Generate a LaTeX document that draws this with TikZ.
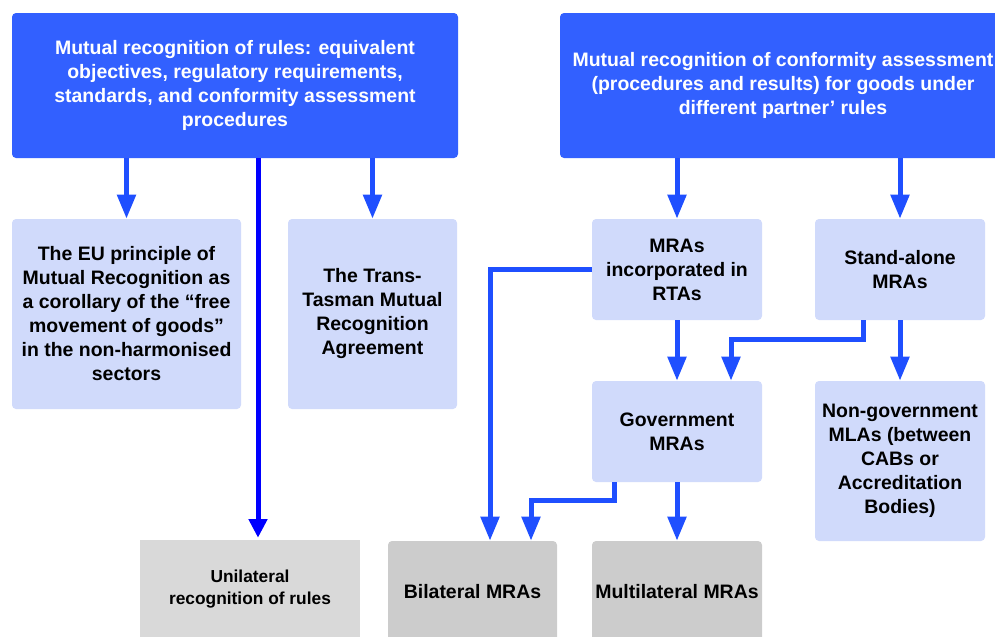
\documentclass[tikz,border=0pt]{standalone}
\usepackage{fontspec}
\setmainfont{Liberation Sans}
\usetikzlibrary{arrows.meta, calc, positioning}
\definecolor{db}{RGB}{50, 96, 255}
\definecolor{lb}{RGB}{208, 218, 251}
\definecolor{ab}{RGB}{31, 79, 255}
\definecolor{pb}{RGB}{0, 0, 255}
\definecolor{g1}{HTML}{D9D9D9}
\definecolor{g2}{HTML}{CCCCCC}

\begin{document}
\begin{tikzpicture}[x=0.75pt, y=-0.75pt,
	head/.style={font=\fontsize{14.6}{18}\selectfont\bfseries, text=white, fill=db, rounded corners=3pt, align=center, inner sep=0pt, minimum width=334.5pt, minimum height=108.75pt},
	sub/.style={font=\fontsize{14.6}{18}\selectfont\bfseries, fill=lb, rounded corners=3pt, align=center, inner sep=0pt, minimum width=127.5pt, minimum height=75.75pt},
	leaf/.style={font=\fontsize{14.6}{18}\selectfont\bfseries, fill=g2, rounded corners=3pt, align=center, inner sep=0pt, minimum width=126.75pt, minimum height=76.5pt},
	arr/.style={draw=ab, line width=3.75pt, -{Triangle[length=18pt, width=13.5pt]}},
	arrp/.style={draw=pb, line width=3.75pt, -{Triangle[length=14pt, width=13.5pt]}}
]
	\useasboundingbox (0,0) rectangle (995,636);
	
	% top row
	\node[head] (rules) at (235, 85.5) {Mutual recognition of rules: equivalent\\objectives, regulatory requirements,\\standards, and conformity assessment\\procedures};
	\node[head] (conf) at (783, 85.5) {Mutual recognition of conformity assessment\\(procedures and results) for goods under\\different partner’ rules};
	
	% second row
	\node[sub, minimum width=171.75pt, minimum height=142.5pt] (eu) at (126.5, 314) {The EU principle of\\Mutual Recognition as\\a corollary of the “free\\movement of goods”\\in the non-harmonised\\sectors};
	\node[sub, minimum width=126.75pt, minimum height=142.5pt] (trans) at (372.5, 314) {The Trans-\\Tasman Mutual\\Recognition\\Agreement};
	\node[sub] (rta) at (677, 269.5) {MRAs\\incorporated in\\RTAs};
	\node[sub] (stand) at (900, 269.5) {Stand-alone\\MRAs};
	
	% third row
	\node[sub] (gov) at (677, 431.5) {Government\\MRAs};
	\node[sub, minimum height=120pt] (nongov) at (900, 461) {Non-government\\MLAs (between\\CABs or\\Accreditation\\Bodies)};
	
	% bottom row
	\node[leaf, fill=g1, rounded corners=0pt, minimum width=165pt, minimum height=73.5pt, font=\fontsize{13}{17}\selectfont\bfseries] (uni) at (250, 589) {Unilateral\\recognition of rules};
	\node[leaf] (bil) at (472.5, 592) {Bilateral MRAs};
	\node[leaf, minimum width=127.5pt] (multi) at (677, 592) {Multilateral MRAs};
	
	\coordinate (xu) at (258, 0);
	\coordinate (xb) at (490, 0);
	\coordinate (xs) at (863, 0);
	\coordinate (xg) at (731, 0);
	\coordinate (xo) at (614, 0);
	\coordinate (xc) at (531, 0);
	
	% arrows
	\draw[arr] (rules.south -| eu) -- (eu.north);
	\draw[arr] (rules.south -| trans) -- (trans.north);
	\draw[arrp] (rules.south -| xu) -- ($(uni.north -| xu) + (0,-2)$);
	\draw[arr] (conf.south -| rta) -- (rta.north);
	\draw[arr] (conf.south -| stand) -- (stand.north);
	\draw[arr] (rta.west) -| (bil.north -| xb);
	\draw[arr] (rta.south) -- (gov.north);
	\draw[arr] (stand.south -| xs) -- ++(0, 19) -| (gov.north -| xg);
	\draw[arr] (stand.south) -- (nongov.north);
	\draw[arr] (gov.south -| xo) -- ++(0, 18) -| (bil.north -| xc);
	\draw[arr] (gov.south) -- (multi.north);
\end{tikzpicture}
\end{document}
